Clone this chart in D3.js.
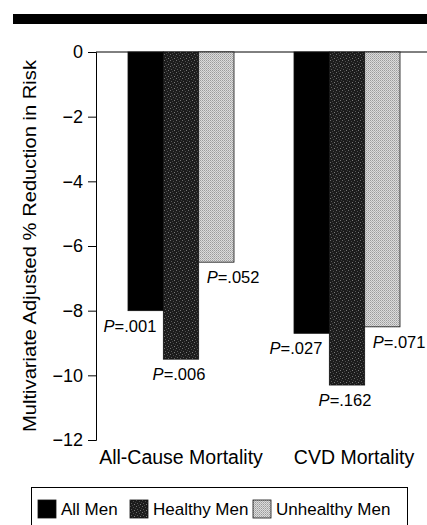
<!DOCTYPE html>
<meta charset="utf-8">
<style type="text/css">
  body {
    margin: 0;
    background: #fff;
    font-family: "Liberation Sans", Arial, sans-serif;
  }
  .axis path, .axis line {
    stroke: #000;
    stroke-width: 1px;
  }
</style>
<body></body>
<script src="https://d3js.org/d3.v7.min.js"></script>
<script>
  // data
  var groups = ["All-Cause Mortality", "CVD Mortality"];
  var series = ["All Men", "Healthy Men", "Unhealthy Men"];
  var allMen = [-8.0, -8.7];
  var healthyMen = [-9.5, -10.3];
  var unhealthyMen = [-6.5, -8.5];
  var pAll = [".001", ".027"];
  var pHealthy = [".006", ".162"];
  var pUnhealthy = [".052", ".071"];
  var yTicks = [0, -2, -4, -6, -8, -10, -12];

  var width = 427, height = 525;

  var svg = d3.select("body").append("svg")
    .attr("width", width)
    .attr("height", height);

  var defs = svg.append("defs");

  // stipple patterns for the grey bars
  var pDark = defs.append("pattern")
    .attr("id", "healthy")
    .attr("patternUnits", "userSpaceOnUse")
    .attr("width", 6).attr("height", 6);
  pDark.append("rect").attr("width", 6).attr("height", 6).attr("fill", "#1c1c1c");
  [[0, 0, "#6e6e6e"], [3, 1, "#4c4c4c"], [1, 3, "#5a5a5a"], [4, 4, "#7a7a7a"], [5, 2, "#3e3e3e"], [2, 5, "#444"]]
    .forEach(function(p) {
      pDark.append("rect").attr("x", p[0]).attr("y", p[1])
        .attr("width", 1).attr("height", 1).attr("fill", p[2]);
    });

  var pLight = defs.append("pattern")
    .attr("id", "unhealthy")
    .attr("patternUnits", "userSpaceOnUse")
    .attr("width", 2).attr("height", 2);
  pLight.append("rect").attr("width", 2).attr("height", 2).attr("fill", "#dcdcdc");
  pLight.append("rect").attr("x", 0).attr("y", 0).attr("width", 1).attr("height", 1).attr("fill", "#9c9c9c");
  pLight.append("rect").attr("x", 1).attr("y", 1).attr("width", 1).attr("height", 1).attr("fill", "#b4b4b4");

  var fills = {
    "All Men": "#000",
    "Healthy Men": "url(#healthy)",
    "Unhealthy Men": "url(#unhealthy)"
  };

  // top rule
  svg.append("rect")
    .attr("x", 13).attr("y", 14)
    .attr("width", 414).attr("height", 10)
    .attr("fill", "#000");

  var y = d3.scaleLinear().domain([-12, 0]).range([440, 52]);
  var x0 = d3.scaleBand().domain(groups).range([98, 430]);
  var x1 = d3.scaleBand().domain(series).range([30, x0.bandwidth() - 30]);

  // zero line
  svg.append("line")
    .attr("x1", 96).attr("x2", 427)
    .attr("y1", y(0)).attr("y2", y(0))
    .attr("stroke", "#000").attr("stroke-width", 1);

  var yAxis = d3.axisLeft(y).tickValues(yTicks).tickSize(8).tickPadding(5);
  var gy = svg.append("g")
    .attr("class", "axis")
    .attr("transform", "translate(96,0)")
    .call(yAxis);
  gy.selectAll("text")
    .attr("font-family", "Liberation Sans, Arial, sans-serif")
    .attr("font-size", 18)
    .attr("fill", "#000");

  svg.append("text")
    .attr("transform", "translate(36," + ((y(0) + y(-12)) / 2 + 0) + ") rotate(-90)")
    .attr("text-anchor", "middle")
    .attr("font-size", 18)
    .attr("textLength", 372)
    .attr("lengthAdjust", "spacingAndGlyphs")
    .text("Multivariate Adjusted % Reduction in Risk");

  var rows = groups.map(function(g, i) {
    return {
      group: g,
      values: [
        { key: "All Men", value: allMen[i], p: pAll[i] },
        { key: "Healthy Men", value: healthyMen[i], p: pHealthy[i] },
        { key: "Unhealthy Men", value: unhealthyMen[i], p: pUnhealthy[i] }
      ]
    };
  });

  var gGroup = svg.selectAll(".grp")
    .data(rows)
    .enter().append("g")
    .attr("class", "grp")
    .attr("transform", function(d) { return "translate(" + x0(d.group) + ",0)"; });

  gGroup.selectAll("rect")
    .data(function(d) { return d.values; })
    .enter().append("rect")
    .attr("x", function(d) { return x1(d.key); })
    .attr("y", y(0))
    .attr("width", x1.bandwidth())
    .attr("height", function(d) { return y(d.value) - y(0); })
    .attr("fill", function(d) { return fills[d.key]; })
    .attr("stroke", "#111")
    .attr("stroke-width", 0.8);

  var pText = gGroup.selectAll(".plab")
    .data(function(d) { return d.values; })
    .enter().append("text")
    .attr("class", "plab")
    .attr("font-size", 16.5)
    .attr("x", function(d) {
      if (d.key === "All Men") return x1(d.key) + x1.bandwidth() - 7;
      if (d.key === "Healthy Men") return x1(d.key) + x1.bandwidth() / 2 - 2;
      return x1(d.key) + 8;
    })
    .attr("y", function(d) { return y(d.value) + 21; })
    .attr("text-anchor", function(d) {
      if (d.key === "All Men") return "end";
      if (d.key === "Healthy Men") return "middle";
      return "start";
    });
  pText.append("tspan").attr("font-style", "italic").text("P");
  pText.append("tspan").text(function(d) { return "=" + d.p; });

  // category labels
  var catShift = [0, 7];
  svg.selectAll(".cat")
    .data(groups)
    .enter().append("text")
    .attr("class", "cat")
    .attr("x", function(d, i) { return x0(d) + x0.bandwidth() / 2 + catShift[i]; })
    .attr("y", 464)
    .attr("text-anchor", "middle")
    .attr("font-size", 19.5)
    .text(function(d) { return d; });

  // legend
  var legend = svg.append("g");
  legend.append("rect")
    .attr("x", 31.5).attr("y", 487.5)
    .attr("width", 376).attr("height", 50)
    .attr("fill", "none")
    .attr("stroke", "#000");

  var legX = [38, 130, 253];
  var li = legend.selectAll(".li")
    .data(series)
    .enter().append("g")
    .attr("transform", function(d, i) { return "translate(" + legX[i] + ",500)"; });
  li.append("rect")
    .attr("width", 18).attr("height", 18)
    .attr("fill", function(d) { return fills[d]; })
    .attr("stroke", "#111")
    .attr("stroke-width", 0.8);
  li.append("text")
    .attr("x", 23).attr("y", 15)
    .attr("font-size", 17)
    .text(function(d) { return d; });
</script>
